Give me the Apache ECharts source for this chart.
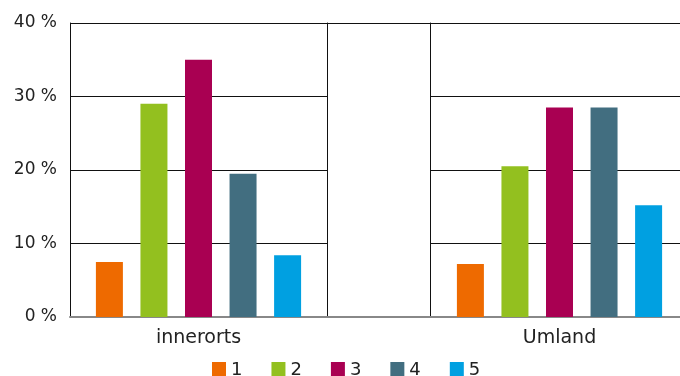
<!DOCTYPE html>
<html>
<head>
<meta charset="utf-8">
<script src="https://cdn.jsdelivr.net/npm/echarts@6/dist/echarts.min.js"></script>
<style>
  html, body { margin: 0; padding: 0; background: #fff; }
  #chart { width: 680px; height: 376px; }
</style>
</head>
<body>
<div id="chart"></div>
<script>
// data
const groups = ['innerorts', 'Umland'];
const classes = ['1', '2', '3', '4', '5'];
const innerorts = [7.5, 29, 35, 19.5, 8.4];
const umland = [7.2, 20.5, 28.5, 28.5, 15.2];
const colors = ['#ee6a00', '#93c01f', '#a90052', '#426e80', '#00a0e1'];

const font = 'DejaVu Sans';
const chart = echarts.init(document.getElementById('chart'));

const valueAxis = (gridIndex, showLabels, interval) => ({
    type: 'value',
    gridIndex: gridIndex,
    min: 0,
    max: 40,
    interval: interval,
    axisLine: { show: true, lineStyle: { color: '#111', width: 1 } },
    axisTick: { show: false },
    axisLabel: {
        show: showLabels,
        formatter: '{value} %',
        fontFamily: font,
        fontSize: 17,
        color: '#222',
        margin: 13,
    },
    splitLine: { show: true, lineStyle: { color: '#111', width: 1 } },
});

const catAxis = (gridIndex, label) => ({
    type: 'category',
    gridIndex: gridIndex,
    data: [label],
    axisLine: { show: true, lineStyle: { color: '#888', width: 2 } },
    axisTick: { show: false },
    axisLabel: {
        fontFamily: font,
        fontSize: 19,
        color: '#222',
        margin: 12,
    },
});

const series = [];
classes.forEach((name, i) => {
    [innerorts, umland].forEach((vals, g) => {
        series.push({
            name: name,
            type: 'bar',
            xAxisIndex: g === 0 ? 0 : 2,
            yAxisIndex: g === 0 ? 0 : 2,
            data: [vals[i]],
            barWidth: 27,
            barGap: '65%',
            itemStyle: { color: colors[i] },
        });
    });
});

chart.setOption({
    animation: false,
    color: colors,
    grid: [
        { left: 70, top: 23, bottom: 59, width: 257, outerBoundsMode: 'none' },
        { left: 327, top: 23, bottom: 59, width: 103, outerBoundsMode: 'none' },
        { left: 430, top: 23, bottom: 59, width: 259, outerBoundsMode: 'none' },
    ],
    xAxis: [catAxis(0, groups[0]), catAxis(1, ''), catAxis(2, groups[1])],
    yAxis: [valueAxis(0, true, 10), valueAxis(1, false, 40), valueAxis(2, false, 10)],
    legend: {
        left: 207,
        top: 356,
        itemWidth: 14,
        itemHeight: 16,
        itemGap: 29,
        icon: 'rect',
        data: classes,
        textStyle: { fontFamily: font, fontSize: 18, color: '#222' },
    },
    series: series,
});
</script>
</body>
</html>
